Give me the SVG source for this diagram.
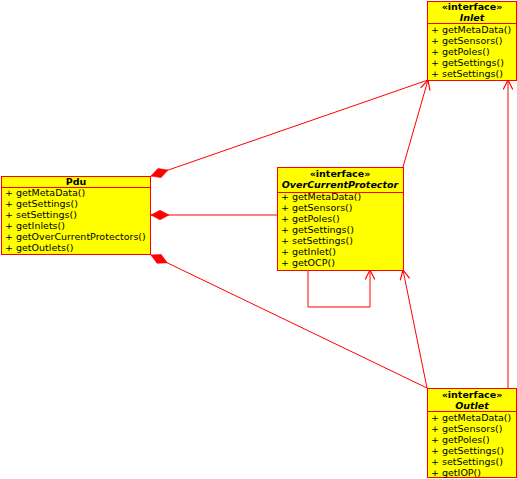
<svg xmlns="http://www.w3.org/2000/svg" width="517" height="479" viewBox="0 0 517 479">
<style>
.box{fill:#ffff00;stroke:#ff0000;stroke-width:1}
.div{stroke:#ff0000;stroke-width:1}
.t{font-family:"DejaVu Sans",sans-serif;font-size:9.5px;fill:#000}
.h{font-family:"DejaVu Sans",sans-serif;font-size:9.5px;font-weight:bold;fill:#000;text-anchor:middle}
.hi{font-family:"DejaVu Sans",sans-serif;font-size:9.5px;font-weight:bold;font-style:italic;fill:#000;text-anchor:middle}
.c{fill:none;stroke:#ff0000;stroke-width:1}
</style>
<defs>
<marker id="dia" markerUnits="userSpaceOnUse" markerWidth="20" markerHeight="12" refX="0" refY="5" orient="auto" viewBox="0 0 16 10" overflow="visible">
<path d="M0,5 L7.5,1 L15,5 L7.5,9 Z" fill="#ff0000" stroke="#ff0000" stroke-width="0.5"/>
</marker>
<marker id="arr" markerUnits="userSpaceOnUse" markerWidth="12" markerHeight="12" refX="10" refY="5" orient="auto" viewBox="0 0 10 10" overflow="visible">
<path d="M2,1 L10,5 L2,9" fill="none" stroke="#ff0000" stroke-width="1"/>
</marker>
</defs>
<rect width="517" height="479" fill="#ffffff"/>
<g id="connectors">
<path class="c" d="M151,176 L428,80" marker-start="url(#dia)"/>
<path class="c" d="M151,215 L277,215" marker-start="url(#dia)"/>
<path class="c" d="M151,255 L427,388" marker-start="url(#dia)"/>
<path class="c" d="M403,167 L428,80" marker-end="url(#arr)"/>
<path class="c" d="M427,388 L403,270" marker-end="url(#arr)"/>
<path class="c" d="M508,388 L508,80" marker-end="url(#arr)"/>
<path class="c" d="M308,270 L308,307 L370,307 L370,270" marker-end="url(#arr)"/>
</g>
<g id="pdu">
<rect class="box" x="1.5" y="176.5" width="149" height="78"/>
<line class="div" x1="1.5" y1="187.5" x2="150.5" y2="187.5"/>
<text class="h" x="76" y="185">Pdu</text>
<text class="t" x="5" y="196">+ getMetaData()</text>
<text class="t" x="5" y="207">+ getSettings()</text>
<text class="t" x="5" y="218">+ setSettings()</text>
<text class="t" x="5" y="229">+ getInlets()</text>
<text class="t" x="5" y="240">+ getOverCurrentProtectors()</text>
<text class="t" x="5" y="251">+ getOutlets()</text>
</g>
<g id="ocp">
<rect class="box" x="277.5" y="167.5" width="126" height="103"/>
<line class="div" x1="277.5" y1="192.5" x2="403.5" y2="192.5"/>
<text class="h" x="340" y="177">«interface»</text>
<text class="hi" x="340" y="188">OverCurrentProtector</text>
<text class="t" x="281" y="200">+ getMetaData()</text>
<text class="t" x="281" y="211">+ getSensors()</text>
<text class="t" x="281" y="222">+ getPoles()</text>
<text class="t" x="281" y="233">+ getSettings()</text>
<text class="t" x="281" y="244">+ setSettings()</text>
<text class="t" x="281" y="255">+ getInlet()</text>
<text class="t" x="281" y="266">+ getOCP()</text>
</g>
<g id="inlet">
<rect class="box" x="427.5" y="1.5" width="89" height="79"/>
<line class="div" x1="427.5" y1="23.5" x2="516.5" y2="23.5"/>
<text class="h" x="472" y="10">«interface»</text>
<text class="hi" x="472" y="21">Inlet</text>
<text class="t" x="431" y="33">+ getMetaData()</text>
<text class="t" x="431" y="44">+ getSensors()</text>
<text class="t" x="431" y="55">+ getPoles()</text>
<text class="t" x="431" y="66">+ getSettings()</text>
<text class="t" x="431" y="77">+ setSettings()</text>
</g>
<g id="outlet">
<rect class="box" x="427.5" y="388.5" width="89" height="89"/>
<line class="div" x1="427.5" y1="411.5" x2="516.5" y2="411.5"/>
<text class="h" x="472" y="398">«interface»</text>
<text class="hi" x="472" y="409">Outlet</text>
<text class="t" x="431" y="421">+ getMetaData()</text>
<text class="t" x="431" y="432">+ getSensors()</text>
<text class="t" x="431" y="443">+ getPoles()</text>
<text class="t" x="431" y="454">+ getSettings()</text>
<text class="t" x="431" y="465">+ setSettings()</text>
<text class="t" x="431" y="476">+ getIOP()</text>
</g>
</svg>
